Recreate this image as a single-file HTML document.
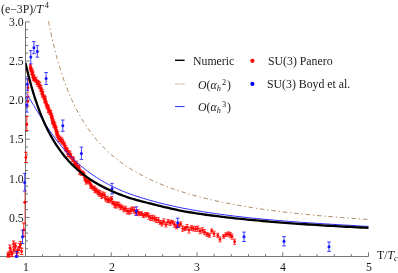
<!DOCTYPE html>
<html><head><meta charset="utf-8"><title>plot</title>
<style>
html,body{margin:0;padding:0;background:#fff;}
body{width:398px;height:273px;position:relative;overflow:hidden;font-family:"Liberation Serif",serif;}
.t{will-change:transform;position:absolute;white-space:nowrap;font-family:"Liberation Serif",serif;font-size:11.8px;line-height:1;color:#1a1a1a;}
.sup{font-size:8.4px;position:relative;top:-4.4px;margin-left:1.2px;margin-right:0.8px;}
.sup.tt{top:-5.4px;margin-left:1.6px;}
.sub{font-size:8.4px;position:relative;top:2.0px;}
</style></head><body>
<svg width="398" height="273" viewBox="0 0 398 273" style="position:absolute;left:0;top:0">
<g stroke="#787878" stroke-width="1" fill="none" shape-rendering="auto">
<path d="M0 256.5 H368.5"/>
<path d="M25.5 256.5 V21.9"/>
<path d="M25.50 256.5 v-4.2 M42.65 256.5 v-2.5 M59.80 256.5 v-2.5 M76.95 256.5 v-2.5 M94.10 256.5 v-2.5 M111.25 256.5 v-4.2 M128.40 256.5 v-2.5 M145.55 256.5 v-2.5 M162.70 256.5 v-2.5 M179.85 256.5 v-2.5 M197.00 256.5 v-4.2 M214.15 256.5 v-2.5 M231.30 256.5 v-2.5 M248.45 256.5 v-2.5 M265.60 256.5 v-2.5 M282.75 256.5 v-4.2 M299.90 256.5 v-2.5 M317.05 256.5 v-2.5 M334.20 256.5 v-2.5 M351.35 256.5 v-2.5 M368.50 256.5 v-4.2 M25.5 256.50 h4.2 M25.5 248.68 h2.5 M25.5 240.86 h2.5 M25.5 233.04 h2.5 M25.5 225.22 h2.5 M25.5 217.40 h4.2 M25.5 209.58 h2.5 M25.5 201.76 h2.5 M25.5 193.94 h2.5 M25.5 186.12 h2.5 M25.5 178.30 h4.2 M25.5 170.48 h2.5 M25.5 162.66 h2.5 M25.5 154.84 h2.5 M25.5 147.02 h2.5 M25.5 139.20 h4.2 M25.5 131.38 h2.5 M25.5 123.56 h2.5 M25.5 115.74 h2.5 M25.5 107.92 h2.5 M25.5 100.10 h4.2 M25.5 92.28 h2.5 M25.5 84.46 h2.5 M25.5 76.64 h2.5 M25.5 68.82 h2.5 M25.5 61.00 h4.2 M25.5 53.18 h2.5 M25.5 45.36 h2.5 M25.5 37.54 h2.5 M25.5 29.72 h2.5 M25.5 21.90 h4.2"/>
</g>
<g stroke="#ff0000" stroke-width="0.75" fill="#ff0000">
<path fill="none" d="M30.49 64.70 V68.95 M28.89 64.70 h3.20 M28.89 68.95 h3.20 M30.42 65.98 V69.89 M28.82 65.98 h3.20 M28.82 69.89 h3.20 M30.83 67.30 V71.91 M29.23 67.30 h3.20 M29.23 71.91 h3.20 M31.65 67.99 V73.78 M30.05 67.99 h3.20 M30.05 73.78 h3.20 M32.01 69.11 V74.67 M30.41 69.11 h3.20 M30.41 74.67 h3.20 M32.36 70.28 V74.50 M30.76 70.28 h3.20 M30.76 74.50 h3.20 M32.42 73.03 V76.99 M30.82 73.03 h3.20 M30.82 76.99 h3.20 M33.19 71.98 V77.78 M31.59 71.98 h3.20 M31.59 77.78 h3.20 M33.21 75.07 V80.04 M31.61 75.07 h3.20 M31.61 80.04 h3.20 M33.81 74.96 V80.24 M32.21 74.96 h3.20 M32.21 80.24 h3.20 M34.03 76.32 V80.14 M32.43 76.32 h3.20 M32.43 80.14 h3.20 M34.82 77.81 V81.55 M33.22 77.81 h3.20 M33.22 81.55 h3.20 M36.18 77.27 V82.52 M34.58 77.27 h3.20 M34.58 82.52 h3.20 M36.79 80.00 V84.62 M35.19 80.00 h3.20 M35.19 84.62 h3.20 M37.68 80.87 V84.64 M36.08 80.87 h3.20 M36.08 84.64 h3.20 M38.02 80.73 V86.58 M36.42 80.73 h3.20 M36.42 86.58 h3.20 M38.78 81.47 V86.59 M37.18 81.47 h3.20 M37.18 86.59 h3.20 M39.88 82.39 V87.91 M38.28 82.39 h3.20 M38.28 87.91 h3.20 M39.83 85.13 V88.93 M38.23 85.13 h3.20 M38.23 88.93 h3.20 M40.73 85.50 V91.15 M39.13 85.50 h3.20 M39.13 91.15 h3.20 M41.09 87.10 V90.86 M39.49 87.10 h3.20 M39.49 90.86 h3.20 M41.22 88.27 V93.94 M39.62 88.27 h3.20 M39.62 93.94 h3.20 M42.25 89.47 V94.16 M40.65 89.47 h3.20 M40.65 94.16 h3.20 M42.42 91.53 V95.94 M40.82 91.53 h3.20 M40.82 95.94 h3.20 M42.66 91.35 V96.28 M41.06 91.35 h3.20 M41.06 96.28 h3.20 M42.85 91.85 V97.68 M41.25 91.85 h3.20 M41.25 97.68 h3.20 M43.88 94.95 V99.19 M42.28 94.95 h3.20 M42.28 99.19 h3.20 M44.61 95.67 V99.58 M43.01 95.67 h3.20 M43.01 99.58 h3.20 M45.18 96.73 V101.59 M43.58 96.73 h3.20 M43.58 101.59 h3.20 M44.91 98.37 V102.55 M43.31 98.37 h3.20 M43.31 102.55 h3.20 M45.27 99.24 V103.10 M43.67 99.24 h3.20 M43.67 103.10 h3.20 M45.92 100.91 V104.90 M44.32 100.91 h3.20 M44.32 104.90 h3.20 M46.51 101.92 V105.64 M44.91 101.92 h3.20 M44.91 105.64 h3.20 M46.71 104.10 V108.19 M45.11 104.10 h3.20 M45.11 108.19 h3.20 M47.55 104.46 V108.81 M45.95 104.46 h3.20 M45.95 108.81 h3.20 M48.45 105.62 V109.95 M46.85 105.62 h3.20 M46.85 109.95 h3.20 M48.31 107.16 V112.59 M46.71 107.16 h3.20 M46.71 112.59 h3.20 M48.59 107.51 V111.80 M46.99 107.51 h3.20 M46.99 111.80 h3.20 M49.50 109.16 V113.96 M47.90 109.16 h3.20 M47.90 113.96 h3.20 M50.34 110.20 V114.23 M48.74 110.20 h3.20 M48.74 114.23 h3.20 M50.65 110.55 V114.98 M49.05 110.55 h3.20 M49.05 114.98 h3.20 M51.23 113.58 V117.22 M49.63 113.58 h3.20 M49.63 117.22 h3.20 M51.61 113.44 V117.64 M50.01 113.44 h3.20 M50.01 117.64 h3.20 M51.80 116.45 V120.09 M50.20 116.45 h3.20 M50.20 120.09 h3.20 M52.58 115.80 V121.16 M50.98 115.80 h3.20 M50.98 121.16 h3.20 M52.56 118.43 V123.35 M50.96 118.43 h3.20 M50.96 123.35 h3.20 M52.72 120.19 V124.25 M51.12 120.19 h3.20 M51.12 124.25 h3.20 M53.72 119.94 V124.68 M52.12 119.94 h3.20 M52.12 124.68 h3.20 M54.06 121.76 V127.60 M52.46 121.76 h3.20 M52.46 127.60 h3.20 M53.85 122.59 V126.44 M52.25 122.59 h3.20 M52.25 126.44 h3.20 M55.08 122.95 V128.51 M53.48 122.95 h3.20 M53.48 128.51 h3.20 M55.44 125.30 V129.94 M53.84 125.30 h3.20 M53.84 129.94 h3.20 M55.49 126.14 V130.92 M53.89 126.14 h3.20 M53.89 130.92 h3.20 M56.53 127.18 V132.78 M54.93 127.18 h3.20 M54.93 132.78 h3.20 M56.60 129.47 V134.01 M55.00 129.47 h3.20 M55.00 134.01 h3.20 M56.47 131.14 V135.95 M54.87 131.14 h3.20 M54.87 135.95 h3.20 M57.42 131.86 V137.11 M55.82 131.86 h3.20 M55.82 137.11 h3.20 M57.81 131.54 V137.50 M56.21 131.54 h3.20 M56.21 137.50 h3.20 M58.21 135.36 V139.79 M56.61 135.36 h3.20 M56.61 139.79 h3.20 M58.90 136.04 V141.64 M57.30 136.04 h3.20 M57.30 141.64 h3.20 M60.07 136.19 V141.49 M58.47 136.19 h3.20 M58.47 141.49 h3.20 M61.07 137.85 V142.97 M59.47 137.85 h3.20 M59.47 142.97 h3.20 M61.87 137.92 V142.49 M60.27 137.92 h3.20 M60.27 142.49 h3.20 M62.48 139.49 V143.93 M60.88 139.49 h3.20 M60.88 143.93 h3.20 M63.09 140.86 V144.59 M61.49 140.86 h3.20 M61.49 144.59 h3.20 M64.13 142.05 V145.97 M62.53 142.05 h3.20 M62.53 145.97 h3.20 M64.72 143.94 V147.71 M63.12 143.94 h3.20 M63.12 147.71 h3.20 M65.49 145.59 V150.97 M63.89 145.59 h3.20 M63.89 150.97 h3.20 M65.63 145.94 V150.16 M64.03 145.94 h3.20 M64.03 150.16 h3.20 M66.70 147.59 V151.58 M65.10 147.59 h3.20 M65.10 151.58 h3.20 M67.33 148.41 V152.21 M65.73 148.41 h3.20 M65.73 152.21 h3.20 M67.65 151.20 V156.82 M66.05 151.20 h3.20 M66.05 156.82 h3.20 M68.79 150.87 V156.56 M67.19 150.87 h3.20 M67.19 156.56 h3.20 M69.93 151.12 V156.33 M68.33 151.12 h3.20 M68.33 156.33 h3.20 M70.51 153.37 V157.65 M68.91 153.37 h3.20 M68.91 157.65 h3.20 M70.89 154.66 V158.84 M69.29 154.66 h3.20 M69.29 158.84 h3.20 M72.45 157.35 V161.66 M70.85 157.35 h3.20 M70.85 161.66 h3.20 M72.85 156.58 V161.28 M71.25 156.58 h3.20 M71.25 161.28 h3.20 M73.71 157.83 V161.81 M72.11 157.83 h3.20 M72.11 161.81 h3.20 M74.61 161.18 V165.85 M73.01 161.18 h3.20 M73.01 165.85 h3.20 M75.20 162.08 V166.31 M73.60 162.08 h3.20 M73.60 166.31 h3.20 M76.61 161.18 V167.09 M75.01 161.18 h3.20 M75.01 167.09 h3.20 M77.57 163.44 V169.37 M75.97 163.44 h3.20 M75.97 169.37 h3.20 M78.09 165.45 V170.36 M76.49 165.45 h3.20 M76.49 170.36 h3.20 M79.13 165.42 V169.61 M77.53 165.42 h3.20 M77.53 169.61 h3.20 M79.54 168.21 V174.12 M77.94 168.21 h3.20 M77.94 174.12 h3.20 M80.34 169.80 V174.15 M78.74 169.80 h3.20 M78.74 174.15 h3.20 M81.20 170.83 V175.29 M79.60 170.83 h3.20 M79.60 175.29 h3.20 M82.57 171.60 V175.21 M80.97 171.60 h3.20 M80.97 175.21 h3.20 M83.23 171.19 V175.70 M81.63 171.19 h3.20 M81.63 175.70 h3.20 M84.31 172.93 V177.67 M82.71 172.93 h3.20 M82.71 177.67 h3.20 M84.89 175.51 V180.32 M83.29 175.51 h3.20 M83.29 180.32 h3.20 M85.17 176.90 V180.98 M83.57 176.90 h3.20 M83.57 180.98 h3.20 M86.15 179.32 V184.14 M84.55 179.32 h3.20 M84.55 184.14 h3.20 M87.15 179.37 V182.98 M85.55 179.37 h3.20 M85.55 182.98 h3.20 M88.80 179.31 V183.54 M87.20 179.31 h3.20 M87.20 183.54 h3.20 M89.88 180.60 V184.42 M88.28 180.60 h3.20 M88.28 184.42 h3.20 M90.62 183.77 V188.32 M89.02 183.77 h3.20 M89.02 188.32 h3.20 M91.56 184.27 V187.97 M89.96 184.27 h3.20 M89.96 187.97 h3.20 M92.84 186.25 V189.90 M91.24 186.25 h3.20 M91.24 189.90 h3.20 M94.44 186.17 V190.50 M92.84 186.17 h3.20 M92.84 190.50 h3.20 M95.00 188.40 V192.55 M93.40 188.40 h3.20 M93.40 192.55 h3.20 M96.33 188.02 V193.02 M94.73 188.02 h3.20 M94.73 193.02 h3.20 M97.98 189.65 V194.52 M96.38 189.65 h3.20 M96.38 194.52 h3.20 M99.13 190.60 V196.00 M97.53 190.60 h3.20 M97.53 196.00 h3.20 M99.98 191.04 V196.21 M98.38 191.04 h3.20 M98.38 196.21 h3.20 M101.69 193.23 V198.54 M100.09 193.23 h3.20 M100.09 198.54 h3.20 M102.82 191.85 V197.56 M101.22 191.85 h3.20 M101.22 197.56 h3.20 M104.56 192.81 V197.35 M102.96 192.81 h3.20 M102.96 197.35 h3.20 M105.48 196.66 V201.04 M103.88 196.66 h3.20 M103.88 201.04 h3.20 M107.36 196.16 V202.12 M105.76 196.16 h3.20 M105.76 202.12 h3.20 M108.34 198.29 V202.24 M106.74 198.29 h3.20 M106.74 202.24 h3.20 M110.17 197.53 V202.87 M108.57 197.53 h3.20 M108.57 202.87 h3.20 M111.77 196.54 V201.68 M110.17 196.54 h3.20 M110.17 201.68 h3.20 M112.74 201.10 V204.80 M111.14 201.10 h3.20 M111.14 204.80 h3.20 M114.43 201.71 V207.32 M112.83 201.71 h3.20 M112.83 207.32 h3.20 M115.90 202.42 V208.16 M114.30 202.42 h3.20 M114.30 208.16 h3.20 M117.06 201.86 V206.97 M115.46 201.86 h3.20 M115.46 206.97 h3.20 M118.89 202.47 V207.84 M117.29 202.47 h3.20 M117.29 207.84 h3.20 M120.44 204.22 V209.77 M118.84 204.22 h3.20 M118.84 209.77 h3.20 M122.06 205.17 V209.11 M120.46 205.17 h3.20 M120.46 209.11 h3.20 M123.78 206.99 V211.85 M122.18 206.99 h3.20 M122.18 211.85 h3.20 M125.40 206.23 V211.04 M123.80 206.23 h3.20 M123.80 211.04 h3.20 M127.06 208.27 V213.87 M125.46 208.27 h3.20 M125.46 213.87 h3.20 M128.87 208.73 V214.27 M127.27 208.73 h3.20 M127.27 214.27 h3.20 M130.61 207.91 V213.49 M129.01 207.91 h3.20 M129.01 213.49 h3.20 M132.39 206.84 V211.84 M130.79 206.84 h3.20 M130.79 211.84 h3.20 M134.21 207.52 V213.27 M132.61 207.52 h3.20 M132.61 213.27 h3.20 M136.15 210.16 V215.40 M134.55 210.16 h3.20 M134.55 215.40 h3.20 M137.93 209.59 V214.86 M136.33 209.59 h3.20 M136.33 214.86 h3.20 M139.60 211.58 V215.73 M138.00 211.58 h3.20 M138.00 215.73 h3.20 M141.56 211.82 V215.49 M139.96 211.82 h3.20 M139.96 215.49 h3.20 M143.33 213.57 V217.49 M141.73 213.57 h3.20 M141.73 217.49 h3.20 M145.34 212.55 V217.02 M143.74 212.55 h3.20 M143.74 217.02 h3.20 M147.15 212.49 V216.34 M145.55 212.49 h3.20 M145.55 216.34 h3.20 M148.82 213.73 V219.34 M147.22 213.73 h3.20 M147.22 219.34 h3.20 M150.76 215.54 V220.48 M149.16 215.54 h3.20 M149.16 220.48 h3.20 M152.47 215.25 V220.35 M150.87 215.25 h3.20 M150.87 220.35 h3.20 M154.45 215.97 V221.08 M152.85 215.97 h3.20 M152.85 221.08 h3.20 M156.34 217.39 V222.62 M154.74 217.39 h3.20 M154.74 222.62 h3.20 M158.24 217.69 V222.46 M156.64 217.69 h3.20 M156.64 222.46 h3.20 M160.12 220.82 V224.43 M158.52 220.82 h3.20 M158.52 224.43 h3.20 M161.96 220.55 V226.07 M160.36 220.55 h3.20 M160.36 226.07 h3.20 M163.86 218.85 V224.24 M162.26 218.85 h3.20 M162.26 224.24 h3.20 M166.00 222.25 V227.06 M164.40 222.25 h3.20 M164.40 227.06 h3.20 M167.98 219.41 V224.30 M166.38 219.41 h3.20 M166.38 224.30 h3.20 M170.20 220.23 V225.41 M168.60 220.23 h3.20 M168.60 225.41 h3.20 M172.30 220.33 V224.09 M170.70 220.33 h3.20 M170.70 224.09 h3.20 M174.41 221.82 V227.19 M172.81 221.82 h3.20 M172.81 227.19 h3.20 M176.39 224.59 V228.80 M174.79 224.59 h3.20 M174.79 228.80 h3.20 M178.65 223.72 V227.50 M177.05 223.72 h3.20 M177.05 227.50 h3.20 M180.65 221.86 V226.09 M179.05 221.86 h3.20 M179.05 226.09 h3.20 M182.69 225.96 V231.31 M181.09 225.96 h3.20 M181.09 231.31 h3.20 M185.01 226.45 V230.55 M183.41 226.45 h3.20 M183.41 230.55 h3.20 M187.08 224.44 V229.82 M185.48 224.44 h3.20 M185.48 229.82 h3.20 M189.02 227.10 V233.05 M187.42 227.10 h3.20 M187.42 233.05 h3.20 M191.44 225.60 V230.38 M189.84 225.60 h3.20 M189.84 230.38 h3.20 M193.43 226.40 V230.92 M191.83 226.40 h3.20 M191.83 230.92 h3.20 M195.70 226.57 V231.32 M194.10 226.57 h3.20 M194.10 231.32 h3.20 M197.75 225.98 V231.22 M196.15 225.98 h3.20 M196.15 231.22 h3.20 M200.05 228.26 V233.70 M198.45 228.26 h3.20 M198.45 233.70 h3.20 M202.43 227.74 V232.82 M200.83 227.74 h3.20 M200.83 232.82 h3.20 M204.62 229.66 V234.81 M203.02 229.66 h3.20 M203.02 234.81 h3.20 M207.03 232.48 V236.27 M205.43 232.48 h3.20 M205.43 236.27 h3.20 M209.30 233.36 V237.31 M207.70 233.36 h3.20 M207.70 237.31 h3.20 M211.72 228.91 V233.12 M210.12 228.91 h3.20 M210.12 233.12 h3.20 M214.11 231.05 V236.44 M212.51 231.05 h3.20 M212.51 236.44 h3.20 M217.80 233.33 V237.67 M216.20 233.33 h3.20 M216.20 237.67 h3.20 M220.00 236.92 V241.88 M218.40 236.92 h3.20 M218.40 241.88 h3.20 M223.70 234.59 V238.21 M222.10 234.59 h3.20 M222.10 238.21 h3.20 M226.00 232.73 V236.47 M224.40 232.73 h3.20 M224.40 236.47 h3.20 M228.30 231.88 V236.12 M226.70 231.88 h3.20 M226.70 236.12 h3.20 M230.30 232.39 V237.61 M228.70 232.39 h3.20 M228.70 237.61 h3.20 M232.00 233.97 V239.23 M230.40 233.97 h3.20 M230.40 239.23 h3.20 M234.60 239.09 V244.31 M233.00 239.09 h3.20 M233.00 244.31 h3.20"/>
<circle cx="30.49" cy="66.82" r="1.4" stroke="none"/>
<circle cx="30.42" cy="67.93" r="1.4" stroke="none"/>
<circle cx="30.83" cy="69.60" r="1.4" stroke="none"/>
<circle cx="31.65" cy="70.89" r="1.4" stroke="none"/>
<circle cx="32.01" cy="71.89" r="1.4" stroke="none"/>
<circle cx="32.36" cy="72.39" r="1.4" stroke="none"/>
<circle cx="32.42" cy="75.01" r="1.4" stroke="none"/>
<circle cx="33.19" cy="74.88" r="1.4" stroke="none"/>
<circle cx="33.21" cy="77.56" r="1.4" stroke="none"/>
<circle cx="33.81" cy="77.60" r="1.4" stroke="none"/>
<circle cx="34.03" cy="78.23" r="1.4" stroke="none"/>
<circle cx="34.82" cy="79.68" r="1.4" stroke="none"/>
<circle cx="36.18" cy="79.89" r="1.4" stroke="none"/>
<circle cx="36.79" cy="82.31" r="1.4" stroke="none"/>
<circle cx="37.68" cy="82.75" r="1.4" stroke="none"/>
<circle cx="38.02" cy="83.65" r="1.4" stroke="none"/>
<circle cx="38.78" cy="84.03" r="1.4" stroke="none"/>
<circle cx="39.88" cy="85.15" r="1.4" stroke="none"/>
<circle cx="39.83" cy="87.03" r="1.4" stroke="none"/>
<circle cx="40.73" cy="88.33" r="1.4" stroke="none"/>
<circle cx="41.09" cy="88.98" r="1.4" stroke="none"/>
<circle cx="41.22" cy="91.10" r="1.4" stroke="none"/>
<circle cx="42.25" cy="91.82" r="1.4" stroke="none"/>
<circle cx="42.42" cy="93.74" r="1.4" stroke="none"/>
<circle cx="42.66" cy="93.82" r="1.4" stroke="none"/>
<circle cx="42.85" cy="94.77" r="1.4" stroke="none"/>
<circle cx="43.88" cy="97.07" r="1.4" stroke="none"/>
<circle cx="44.61" cy="97.62" r="1.4" stroke="none"/>
<circle cx="45.18" cy="99.16" r="1.4" stroke="none"/>
<circle cx="44.91" cy="100.46" r="1.4" stroke="none"/>
<circle cx="45.27" cy="101.17" r="1.4" stroke="none"/>
<circle cx="45.92" cy="102.90" r="1.4" stroke="none"/>
<circle cx="46.51" cy="103.78" r="1.4" stroke="none"/>
<circle cx="46.71" cy="106.15" r="1.4" stroke="none"/>
<circle cx="47.55" cy="106.63" r="1.4" stroke="none"/>
<circle cx="48.45" cy="107.78" r="1.4" stroke="none"/>
<circle cx="48.31" cy="109.87" r="1.4" stroke="none"/>
<circle cx="48.59" cy="109.65" r="1.4" stroke="none"/>
<circle cx="49.50" cy="111.56" r="1.4" stroke="none"/>
<circle cx="50.34" cy="112.21" r="1.4" stroke="none"/>
<circle cx="50.65" cy="112.76" r="1.4" stroke="none"/>
<circle cx="51.23" cy="115.40" r="1.4" stroke="none"/>
<circle cx="51.61" cy="115.54" r="1.4" stroke="none"/>
<circle cx="51.80" cy="118.27" r="1.4" stroke="none"/>
<circle cx="52.58" cy="118.48" r="1.4" stroke="none"/>
<circle cx="52.56" cy="120.89" r="1.4" stroke="none"/>
<circle cx="52.72" cy="122.22" r="1.4" stroke="none"/>
<circle cx="53.72" cy="122.31" r="1.4" stroke="none"/>
<circle cx="54.06" cy="124.68" r="1.4" stroke="none"/>
<circle cx="53.85" cy="124.52" r="1.4" stroke="none"/>
<circle cx="55.08" cy="125.73" r="1.4" stroke="none"/>
<circle cx="55.44" cy="127.62" r="1.4" stroke="none"/>
<circle cx="55.49" cy="128.53" r="1.4" stroke="none"/>
<circle cx="56.53" cy="129.98" r="1.4" stroke="none"/>
<circle cx="56.60" cy="131.74" r="1.4" stroke="none"/>
<circle cx="56.47" cy="133.54" r="1.4" stroke="none"/>
<circle cx="57.42" cy="134.49" r="1.4" stroke="none"/>
<circle cx="57.81" cy="134.52" r="1.4" stroke="none"/>
<circle cx="58.21" cy="137.57" r="1.4" stroke="none"/>
<circle cx="58.90" cy="138.84" r="1.4" stroke="none"/>
<circle cx="60.07" cy="138.84" r="1.4" stroke="none"/>
<circle cx="61.07" cy="140.41" r="1.4" stroke="none"/>
<circle cx="61.87" cy="140.21" r="1.4" stroke="none"/>
<circle cx="62.48" cy="141.71" r="1.4" stroke="none"/>
<circle cx="63.09" cy="142.73" r="1.4" stroke="none"/>
<circle cx="64.13" cy="144.01" r="1.4" stroke="none"/>
<circle cx="64.72" cy="145.82" r="1.4" stroke="none"/>
<circle cx="65.49" cy="148.28" r="1.4" stroke="none"/>
<circle cx="65.63" cy="148.05" r="1.4" stroke="none"/>
<circle cx="66.70" cy="149.58" r="1.4" stroke="none"/>
<circle cx="67.33" cy="150.31" r="1.4" stroke="none"/>
<circle cx="67.65" cy="154.01" r="1.4" stroke="none"/>
<circle cx="68.79" cy="153.72" r="1.4" stroke="none"/>
<circle cx="69.93" cy="153.73" r="1.4" stroke="none"/>
<circle cx="70.51" cy="155.51" r="1.4" stroke="none"/>
<circle cx="70.89" cy="156.75" r="1.4" stroke="none"/>
<circle cx="72.45" cy="159.51" r="1.4" stroke="none"/>
<circle cx="72.85" cy="158.93" r="1.4" stroke="none"/>
<circle cx="73.71" cy="159.82" r="1.4" stroke="none"/>
<circle cx="74.61" cy="163.52" r="1.4" stroke="none"/>
<circle cx="75.20" cy="164.19" r="1.4" stroke="none"/>
<circle cx="76.61" cy="164.14" r="1.4" stroke="none"/>
<circle cx="77.57" cy="166.41" r="1.4" stroke="none"/>
<circle cx="78.09" cy="167.90" r="1.4" stroke="none"/>
<circle cx="79.13" cy="167.52" r="1.4" stroke="none"/>
<circle cx="79.54" cy="171.16" r="1.4" stroke="none"/>
<circle cx="80.34" cy="171.98" r="1.4" stroke="none"/>
<circle cx="81.20" cy="173.06" r="1.4" stroke="none"/>
<circle cx="82.57" cy="173.40" r="1.4" stroke="none"/>
<circle cx="83.23" cy="173.44" r="1.4" stroke="none"/>
<circle cx="84.31" cy="175.30" r="1.4" stroke="none"/>
<circle cx="84.89" cy="177.92" r="1.4" stroke="none"/>
<circle cx="85.17" cy="178.94" r="1.4" stroke="none"/>
<circle cx="86.15" cy="181.73" r="1.4" stroke="none"/>
<circle cx="87.15" cy="181.17" r="1.4" stroke="none"/>
<circle cx="88.80" cy="181.43" r="1.4" stroke="none"/>
<circle cx="89.88" cy="182.51" r="1.4" stroke="none"/>
<circle cx="90.62" cy="186.05" r="1.4" stroke="none"/>
<circle cx="91.56" cy="186.12" r="1.4" stroke="none"/>
<circle cx="92.84" cy="188.07" r="1.4" stroke="none"/>
<circle cx="94.44" cy="188.33" r="1.4" stroke="none"/>
<circle cx="95.00" cy="190.48" r="1.4" stroke="none"/>
<circle cx="96.33" cy="190.52" r="1.4" stroke="none"/>
<circle cx="97.98" cy="192.08" r="1.4" stroke="none"/>
<circle cx="99.13" cy="193.30" r="1.4" stroke="none"/>
<circle cx="99.98" cy="193.62" r="1.4" stroke="none"/>
<circle cx="101.69" cy="195.89" r="1.4" stroke="none"/>
<circle cx="102.82" cy="194.71" r="1.4" stroke="none"/>
<circle cx="104.56" cy="195.08" r="1.4" stroke="none"/>
<circle cx="105.48" cy="198.85" r="1.4" stroke="none"/>
<circle cx="107.36" cy="199.14" r="1.4" stroke="none"/>
<circle cx="108.34" cy="200.26" r="1.4" stroke="none"/>
<circle cx="110.17" cy="200.20" r="1.4" stroke="none"/>
<circle cx="111.77" cy="199.11" r="1.4" stroke="none"/>
<circle cx="112.74" cy="202.95" r="1.4" stroke="none"/>
<circle cx="114.43" cy="204.51" r="1.4" stroke="none"/>
<circle cx="115.90" cy="205.29" r="1.4" stroke="none"/>
<circle cx="117.06" cy="204.41" r="1.4" stroke="none"/>
<circle cx="118.89" cy="205.16" r="1.4" stroke="none"/>
<circle cx="120.44" cy="206.99" r="1.4" stroke="none"/>
<circle cx="122.06" cy="207.14" r="1.4" stroke="none"/>
<circle cx="123.78" cy="209.42" r="1.4" stroke="none"/>
<circle cx="125.40" cy="208.63" r="1.4" stroke="none"/>
<circle cx="127.06" cy="211.07" r="1.4" stroke="none"/>
<circle cx="128.87" cy="211.50" r="1.4" stroke="none"/>
<circle cx="130.61" cy="210.70" r="1.4" stroke="none"/>
<circle cx="132.39" cy="209.34" r="1.4" stroke="none"/>
<circle cx="134.21" cy="210.40" r="1.4" stroke="none"/>
<circle cx="136.15" cy="212.78" r="1.4" stroke="none"/>
<circle cx="137.93" cy="212.22" r="1.4" stroke="none"/>
<circle cx="139.60" cy="213.66" r="1.4" stroke="none"/>
<circle cx="141.56" cy="213.65" r="1.4" stroke="none"/>
<circle cx="143.33" cy="215.53" r="1.4" stroke="none"/>
<circle cx="145.34" cy="214.78" r="1.4" stroke="none"/>
<circle cx="147.15" cy="214.42" r="1.4" stroke="none"/>
<circle cx="148.82" cy="216.53" r="1.4" stroke="none"/>
<circle cx="150.76" cy="218.01" r="1.4" stroke="none"/>
<circle cx="152.47" cy="217.80" r="1.4" stroke="none"/>
<circle cx="154.45" cy="218.52" r="1.4" stroke="none"/>
<circle cx="156.34" cy="220.01" r="1.4" stroke="none"/>
<circle cx="158.24" cy="220.08" r="1.4" stroke="none"/>
<circle cx="160.12" cy="222.62" r="1.4" stroke="none"/>
<circle cx="161.96" cy="223.31" r="1.4" stroke="none"/>
<circle cx="163.86" cy="221.54" r="1.4" stroke="none"/>
<circle cx="166.00" cy="224.66" r="1.4" stroke="none"/>
<circle cx="167.98" cy="221.86" r="1.4" stroke="none"/>
<circle cx="170.20" cy="222.82" r="1.4" stroke="none"/>
<circle cx="172.30" cy="222.21" r="1.4" stroke="none"/>
<circle cx="174.41" cy="224.50" r="1.4" stroke="none"/>
<circle cx="176.39" cy="226.69" r="1.4" stroke="none"/>
<circle cx="178.65" cy="225.61" r="1.4" stroke="none"/>
<circle cx="180.65" cy="223.97" r="1.4" stroke="none"/>
<circle cx="182.69" cy="228.64" r="1.4" stroke="none"/>
<circle cx="185.01" cy="228.50" r="1.4" stroke="none"/>
<circle cx="187.08" cy="227.13" r="1.4" stroke="none"/>
<circle cx="189.02" cy="230.07" r="1.4" stroke="none"/>
<circle cx="191.44" cy="227.99" r="1.4" stroke="none"/>
<circle cx="193.43" cy="228.66" r="1.4" stroke="none"/>
<circle cx="195.70" cy="228.95" r="1.4" stroke="none"/>
<circle cx="197.75" cy="228.60" r="1.4" stroke="none"/>
<circle cx="200.05" cy="230.98" r="1.4" stroke="none"/>
<circle cx="202.43" cy="230.28" r="1.4" stroke="none"/>
<circle cx="204.62" cy="232.23" r="1.4" stroke="none"/>
<circle cx="207.03" cy="234.37" r="1.4" stroke="none"/>
<circle cx="209.30" cy="235.33" r="1.4" stroke="none"/>
<circle cx="211.72" cy="231.02" r="1.4" stroke="none"/>
<circle cx="214.11" cy="233.75" r="1.4" stroke="none"/>
<circle cx="217.80" cy="235.50" r="1.4" stroke="none"/>
<circle cx="220.00" cy="239.40" r="1.4" stroke="none"/>
<circle cx="223.70" cy="236.40" r="1.4" stroke="none"/>
<circle cx="226.00" cy="234.60" r="1.4" stroke="none"/>
<circle cx="228.30" cy="234.00" r="1.4" stroke="none"/>
<circle cx="230.30" cy="235.00" r="1.4" stroke="none"/>
<circle cx="232.00" cy="236.60" r="1.4" stroke="none"/>
<circle cx="234.60" cy="241.70" r="1.4" stroke="none"/>
</g>
<g stroke="#ff0000" stroke-width="0.80" fill="#ff0000" opacity="1.00"><path d="M13.60 241.00 V247.00 M11.80 241.00 h3.60 M11.80 247.00 h3.60" fill="none"/><circle cx="13.60" cy="244.00" r="1.40" stroke="none"/></g>
<g stroke="#ff0000" stroke-width="0.80" fill="#ff0000" opacity="1.00"><path d="M10.00 245.00 V251.00 M8.20 245.00 h3.60 M8.20 251.00 h3.60" fill="none"/><circle cx="10.00" cy="248.00" r="1.40" stroke="none"/></g>
<g stroke="#ff0000" stroke-width="0.80" fill="#ff0000" opacity="1.00"><path d="M15.50 243.00 V249.00 M13.70 243.00 h3.60 M13.70 249.00 h3.60" fill="none"/><circle cx="15.50" cy="246.00" r="1.40" stroke="none"/></g>
<g stroke="#ff0000" stroke-width="0.80" fill="#ff0000" opacity="1.00"><path d="M19.60 243.50 V250.50 M17.80 243.50 h3.60 M17.80 250.50 h3.60" fill="none"/><circle cx="19.60" cy="247.00" r="1.40" stroke="none"/></g>
<g stroke="#ff0000" stroke-width="0.80" fill="#ff0000" opacity="1.00"><path d="M11.00 249.00 V255.00 M9.20 249.00 h3.60 M9.20 255.00 h3.60" fill="none"/><circle cx="11.00" cy="252.00" r="1.40" stroke="none"/></g>
<g stroke="#ff0000" stroke-width="0.80" fill="#ff0000" opacity="1.00"><path d="M21.60 248.60 V254.60 M19.80 248.60 h3.60 M19.80 254.60 h3.60" fill="none"/><circle cx="21.60" cy="251.60" r="1.40" stroke="none"/></g>
<g stroke="#ff0000" stroke-width="0.80" fill="#ff0000" opacity="1.00"><path d="M9.00 252.10 V257.10 M7.20 252.10 h3.60 M7.20 257.10 h3.60" fill="none"/><circle cx="9.00" cy="254.60" r="1.40" stroke="none"/></g>
<g stroke="#ff0000" stroke-width="0.80" fill="#ff0000" opacity="1.00"><path d="M12.00 251.50 V256.50 M10.20 251.50 h3.60 M10.20 256.50 h3.60" fill="none"/><circle cx="12.00" cy="254.00" r="1.40" stroke="none"/></g>
<g stroke="#ff0000" stroke-width="0.80" fill="#ff0000" opacity="1.00"><path d="M18.00 247.00 V253.00 M16.20 247.00 h3.60 M16.20 253.00 h3.60" fill="none"/><circle cx="18.00" cy="250.00" r="1.40" stroke="none"/></g>
<g stroke="#ff0000" stroke-width="0.80" fill="#ff0000" opacity="1.00"><path d="M14.00 247.00 V253.00 M12.20 247.00 h3.60 M12.20 253.00 h3.60" fill="none"/><circle cx="14.00" cy="250.00" r="1.40" stroke="none"/></g>
<g stroke="#ff0000" stroke-width="0.80" fill="#ff0000" opacity="1.00"><path d="M20.50 241.50 V247.50 M18.70 241.50 h3.60 M18.70 247.50 h3.60" fill="none"/><circle cx="20.50" cy="244.50" r="1.40" stroke="none"/></g>
<g stroke="#ff0000" stroke-width="0.80" fill="#ff0000" opacity="1.00"><path d="M17.00 250.50 V255.50 M15.20 250.50 h3.60 M15.20 255.50 h3.60" fill="none"/><circle cx="17.00" cy="253.00" r="1.40" stroke="none"/></g>
<g stroke="#ff0000" stroke-width="0.80" fill="#ff0000" opacity="1.00"><path d="M8.00 253.00 V257.00 M6.20 253.00 h3.60 M6.20 257.00 h3.60" fill="none"/><circle cx="8.00" cy="255.00" r="1.40" stroke="none"/></g>
<g stroke="#ff0000" stroke-width="0.90" fill="#ff0000" opacity="1.00"><path d="M23.80 223.00 V236.60 M22.10 223.00 h3.40 M22.10 236.60 h3.40" fill="none"/><circle cx="23.80" cy="229.80" r="1.40" stroke="none"/></g>
<g stroke="#ff0000" stroke-width="0.90" fill="#ff0000" opacity="0.55"><path d="M24.80 191.80 V224.00 M23.10 191.80 h3.40 M23.10 224.00 h3.40" fill="none"/><circle cx="24.80" cy="202.30" r="0.00" stroke="none"/></g>
<circle cx="24.8" cy="202.3" r="1.5" fill="#ff0000"/>
<g stroke="#ff0000" stroke-width="0.90" fill="#ff0000" opacity="1.00"><path d="M25.90 152.30 V162.50 M24.20 152.30 h3.40 M24.20 162.50 h3.40" fill="none"/><circle cx="25.90" cy="157.50" r="1.40" stroke="none"/></g>
<g stroke="#ff0000" stroke-width="0.90" fill="#ff0000" opacity="1.00"><path d="M26.80 116.50 V130.50 M25.10 116.50 h3.40 M25.10 130.50 h3.40" fill="none"/><circle cx="26.80" cy="124.50" r="1.40" stroke="none"/></g>
<g stroke="#ff0000" stroke-width="0.70" fill="#ff0000" opacity="1.00"><path d="M28.00 79.70 V96.70 M26.30 79.70 h3.40 M26.30 96.70 h3.40" fill="none"/><circle cx="28.00" cy="87.70" r="1.40" stroke="none"/></g>
<g stroke="#ff0000" stroke-width="0.70" fill="#ff0000" opacity="1.00"><path d="M27.70 96.40 V106.40 M26.00 96.40 h3.40 M26.00 106.40 h3.40" fill="none"/><circle cx="27.70" cy="101.40" r="1.40" stroke="none"/></g>
<g stroke="#1414ff" stroke-width="0.80" fill="#1414ff" opacity="1.00"><path d="M16.50 251.50 V257.30 M14.70 251.50 h3.60 M14.70 257.30 h3.60" fill="none"/><circle cx="16.50" cy="256.30" r="1.50" stroke="none"/></g>
<g stroke="#1414ff" stroke-width="0.80" fill="#1414ff" opacity="1.00"><path d="M22.50 230.20 V243.40 M20.70 230.20 h3.60 M20.70 243.40 h3.60" fill="none"/><circle cx="22.50" cy="236.70" r="1.50" stroke="none"/></g>
<g stroke="#1414ff" stroke-width="0.80" fill="#1414ff" opacity="1.00"><path d="M24.70 173.40 V190.90 M22.90 173.40 h3.60 M22.90 190.90 h3.60" fill="none"/><circle cx="24.70" cy="182.40" r="1.50" stroke="none"/></g>
<g stroke="#1414ff" stroke-width="0.80" fill="#1414ff" opacity="1.00"><path d="M26.90 97.40 V112.10 M25.10 97.40 h3.60 M25.10 112.10 h3.60" fill="none"/><circle cx="26.90" cy="104.90" r="1.50" stroke="none"/></g>
<g stroke="#1414ff" stroke-width="0.80" fill="#1414ff" opacity="1.00"><path d="M27.30 78.30 V90.30 M25.50 78.30 h3.60 M25.50 90.30 h3.60" fill="none"/><circle cx="27.30" cy="84.30" r="1.50" stroke="none"/></g>
<g stroke="#1414ff" stroke-width="0.80" fill="#1414ff" opacity="1.00"><path d="M30.80 50.60 V63.90 M29.00 50.60 h3.60 M29.00 63.90 h3.60" fill="none"/><circle cx="30.80" cy="57.10" r="1.50" stroke="none"/></g>
<g stroke="#1414ff" stroke-width="0.80" fill="#1414ff" opacity="1.00"><path d="M33.90 41.70 V53.70 M32.10 41.70 h3.60 M32.10 53.70 h3.60" fill="none"/><circle cx="33.90" cy="47.70" r="1.50" stroke="none"/></g>
<g stroke="#1414ff" stroke-width="0.80" fill="#1414ff" opacity="1.00"><path d="M37.30 45.60 V57.20 M35.50 45.60 h3.60 M35.50 57.20 h3.60" fill="none"/><circle cx="37.30" cy="51.40" r="1.50" stroke="none"/></g>
<g stroke="#1414ff" stroke-width="0.80" fill="#1414ff" opacity="1.00"><path d="M46.10 72.50 V84.50 M44.30 72.50 h3.60 M44.30 84.50 h3.60" fill="none"/><circle cx="46.10" cy="78.50" r="1.50" stroke="none"/></g>
<g stroke="#1414ff" stroke-width="0.80" fill="#1414ff" opacity="1.00"><path d="M62.80 120.00 V131.30 M61.00 120.00 h3.60 M61.00 131.30 h3.60" fill="none"/><circle cx="62.80" cy="125.70" r="1.50" stroke="none"/></g>
<g stroke="#1414ff" stroke-width="0.80" fill="#1414ff" opacity="1.00"><path d="M81.40 147.10 V159.60 M79.60 147.10 h3.60 M79.60 159.60 h3.60" fill="none"/><circle cx="81.40" cy="153.40" r="1.50" stroke="none"/></g>
<g stroke="#1414ff" stroke-width="0.80" fill="#1414ff" opacity="1.00"><path d="M112.00 183.40 V194.00 M110.20 183.40 h3.60 M110.20 194.00 h3.60" fill="none"/><circle cx="112.00" cy="188.70" r="1.50" stroke="none"/></g>
<g stroke="#1414ff" stroke-width="0.80" fill="#1414ff" opacity="1.00"><path d="M136.30 206.80 V215.20 M134.50 206.80 h3.60 M134.50 215.20 h3.60" fill="none"/><circle cx="136.30" cy="211.00" r="1.50" stroke="none"/></g>
<g stroke="#1414ff" stroke-width="0.80" fill="#1414ff" opacity="1.00"><path d="M177.70 218.20 V227.40 M175.90 218.20 h3.60 M175.90 227.40 h3.60" fill="none"/><circle cx="177.70" cy="222.80" r="1.50" stroke="none"/></g>
<g stroke="#1414ff" stroke-width="0.80" fill="#1414ff" opacity="1.00"><path d="M244.00 232.10 V241.50 M242.20 232.10 h3.60 M242.20 241.50 h3.60" fill="none"/><circle cx="244.00" cy="236.80" r="1.50" stroke="none"/></g>
<g stroke="#1414ff" stroke-width="0.80" fill="#1414ff" opacity="1.00"><path d="M284.00 236.60 V245.90 M282.20 236.60 h3.60 M282.20 245.90 h3.60" fill="none"/><circle cx="284.00" cy="241.30" r="1.50" stroke="none"/></g>
<g stroke="#1414ff" stroke-width="0.80" fill="#1414ff" opacity="1.00"><path d="M329.00 241.90 V251.40 M327.20 241.90 h3.60 M327.20 251.40 h3.60" fill="none"/><circle cx="329.00" cy="246.70" r="1.50" stroke="none"/></g>
<clipPath id="cp"><rect x="25.5" y="0" width="400" height="273"/></clipPath>
<g clip-path="url(#cp)">
<path d="M48.50 21.27 L48.56 21.57 L48.69 22.23 L48.87 23.17 L49.11 24.35 L49.39 25.74 L49.72 27.32 L50.08 29.08 L50.49 30.99 L50.93 33.03 L51.40 35.21 L51.91 37.49 L52.46 39.87 L53.03 42.34 L53.64 44.89 L54.28 47.50 L54.95 50.16 L55.65 52.88 L56.38 55.63 L57.14 58.41 L57.93 61.21 L58.75 64.03 L59.59 66.86 L60.46 69.69 L61.36 72.51 L62.28 75.33 L63.23 78.14 L64.21 80.93 L65.21 83.70 L66.24 86.45 L67.29 89.17 L68.37 91.86 L69.47 94.52 L70.59 97.14 L71.74 99.73 L72.92 102.28 L74.11 104.80 L75.34 107.27 L76.58 109.71 L77.85 112.10 L79.14 114.45 L80.45 116.76 L81.79 119.03 L83.15 121.26 L84.53 123.44 L85.93 125.59 L87.36 127.69 L88.80 129.75 L90.27 131.77 L91.76 133.75 L93.27 135.69 L94.81 137.58 L96.36 139.45 L97.94 141.27 L99.53 143.05 L101.15 144.80 L102.79 146.51 L104.45 148.19 L106.12 149.83 L107.82 151.44 L109.54 153.01 L111.28 154.55 L113.04 156.06 L114.82 157.54 L116.62 158.99 L118.44 160.40 L120.28 161.79 L122.14 163.15 L124.02 164.48 L125.91 165.78 L127.83 167.06 L129.77 168.31 L131.72 169.53 L133.70 170.73 L135.69 171.91 L137.70 173.06 L139.73 174.18 L141.78 175.29 L143.85 176.37 L145.94 177.43 L148.05 178.47 L150.17 179.48 L152.31 180.48 L154.48 181.46 L156.66 182.41 L158.85 183.35 L161.07 184.27 L163.30 185.17 L165.56 186.05 L167.83 186.92 L170.11 187.77 L172.42 188.60 L174.74 189.41 L177.09 190.21 L179.45 191.00 L181.82 191.76 L184.22 192.52 L186.63 193.25 L189.06 193.98 L191.51 194.68 L193.97 195.38 L196.45 196.06 L198.95 196.73 L201.47 197.38 L204.00 198.02 L206.55 198.65 L209.12 199.27 L211.70 199.88 L214.30 200.47 L216.92 201.05 L219.56 201.62 L222.21 202.18 L224.88 202.73 L227.56 203.27 L230.27 203.79 L232.99 204.31 L235.72 204.82 L238.47 205.31 L241.24 205.80 L244.03 206.28 L246.83 206.75 L249.65 207.21 L252.48 207.66 L255.33 208.10 L258.20 208.54 L261.08 208.96 L263.98 209.38 L266.89 209.79 L269.83 210.19 L272.77 210.58 L275.74 210.97 L278.72 211.34 L281.71 211.72 L284.72 212.08 L287.75 212.44 L290.79 212.79 L293.85 213.13 L296.93 213.47 L300.02 213.80 L303.12 214.12 L306.25 214.44 L309.38 214.75 L312.54 215.06 L315.71 215.36 L318.89 215.65 L322.09 215.94 L325.31 216.22 L328.54 216.50 L331.78 216.77 L335.04 217.04 L338.32 217.30 L341.61 217.56 L344.92 217.81 L348.24 218.06 L351.58 218.30 L354.94 218.54 L358.30 218.77 L361.69 219.00 L365.09 219.23 L368.50 219.45" fill="none" stroke="#a77b4e" stroke-width="0.9" stroke-dasharray="4.5 2.8 1.4 2.8"/>
<path d="M25.50 92.40 L25.56 92.48 L25.70 92.68 L25.90 92.97 L26.16 93.34 L26.46 93.79 L26.81 94.31 L27.20 94.90 L27.63 95.56 L28.10 96.28 L28.61 97.08 L29.16 97.94 L29.74 98.87 L30.36 99.87 L31.01 100.92 L31.70 102.04 L32.42 103.23 L33.17 104.46 L33.95 105.76 L34.76 107.11 L35.61 108.51 L36.48 109.95 L37.39 111.45 L38.32 112.98 L39.28 114.56 L40.27 116.17 L41.29 117.81 L42.34 119.48 L43.41 121.18 L44.51 122.89 L45.64 124.63 L46.79 126.39 L47.97 128.15 L49.18 129.93 L50.41 131.71 L51.67 133.50 L52.96 135.28 L54.26 137.07 L55.60 138.85 L56.96 140.62 L58.34 142.39 L59.75 144.14 L61.18 145.89 L62.64 147.61 L64.12 149.32 L65.62 151.02 L67.15 152.69 L68.70 154.35 L70.27 155.98 L71.87 157.59 L73.49 159.18 L75.14 160.74 L76.80 162.28 L78.49 163.79 L80.20 165.28 L81.93 166.74 L83.69 168.18 L85.47 169.58 L87.27 170.97 L89.09 172.32 L90.93 173.65 L92.79 174.95 L94.68 176.23 L96.59 177.48 L98.52 178.70 L100.47 179.89 L102.44 181.06 L104.43 182.21 L106.44 183.33 L108.48 184.42 L110.53 185.49 L112.61 186.54 L114.70 187.56 L116.82 188.56 L118.96 189.54 L121.11 190.49 L123.29 191.41 L125.49 192.29 L127.71 193.15 L129.94 193.97 L132.20 194.76 L134.48 195.54 L136.78 196.29 L139.09 197.03 L141.43 197.75 L143.79 198.46 L146.16 199.16 L148.56 199.86 L150.97 200.56 L153.40 201.25 L155.86 201.92 L158.33 202.58 L160.82 203.22 L163.33 203.85 L165.86 204.46 L168.41 205.06 L170.97 205.64 L173.56 206.21 L176.16 206.77 L178.78 207.32 L181.43 207.85 L184.09 208.38 L186.76 208.89 L189.46 209.39 L192.18 209.88 L194.91 210.36 L197.66 210.83 L200.43 211.29 L203.22 211.74 L206.03 212.18 L208.85 212.62 L211.70 213.04 L214.56 213.46 L217.43 213.87 L220.33 214.27 L223.24 214.66 L226.18 215.05 L229.13 215.43 L232.09 215.80 L235.08 216.16 L238.08 216.52 L241.10 216.87 L244.14 217.21 L247.20 217.54 L250.27 217.87 L253.36 218.19 L256.47 218.50 L259.59 218.81 L262.73 219.11 L265.89 219.41 L269.07 219.69 L272.26 219.98 L275.47 220.26 L278.70 220.53 L281.95 220.80 L285.21 221.06 L288.49 221.32 L291.78 221.58 L295.10 221.83 L298.43 222.08 L301.77 222.32 L305.13 222.55 L308.51 222.79 L311.91 223.02 L315.32 223.24 L318.75 223.47 L322.20 223.69 L325.66 223.90 L329.14 224.11 L332.64 224.32 L336.15 224.53 L339.68 224.75 L343.23 224.96 L346.79 225.17 L350.37 225.39 L353.96 225.60 L357.57 225.81 L361.20 226.02 L364.84 226.23 L368.50 226.43" fill="none" stroke="#2a2aff" stroke-width="1"/>
<path d="M25.50 62.95 L25.56 63.22 L25.70 63.84 L25.90 64.73 L26.16 65.83 L26.46 67.14 L26.81 68.62 L27.20 70.26 L27.63 72.05 L28.10 73.96 L28.61 75.99 L29.16 78.12 L29.74 80.34 L30.36 82.64 L31.01 85.01 L31.70 87.44 L32.42 89.91 L33.17 92.43 L33.95 94.97 L34.76 97.54 L35.61 100.13 L36.48 102.72 L37.39 105.32 L38.32 107.92 L39.28 110.50 L40.27 113.08 L41.29 115.63 L42.34 118.17 L43.41 120.68 L44.51 123.16 L45.64 125.61 L46.79 128.02 L47.97 130.40 L49.18 132.74 L50.41 135.04 L51.67 137.31 L52.96 139.52 L54.26 141.70 L55.60 143.83 L56.96 145.92 L58.34 147.96 L59.75 149.95 L61.18 151.91 L62.64 153.81 L64.12 155.67 L65.62 157.49 L67.15 159.26 L68.70 160.99 L70.27 162.68 L71.87 164.33 L73.49 165.93 L75.14 167.49 L76.80 169.01 L78.49 170.50 L80.20 171.94 L81.93 173.35 L83.69 174.72 L85.47 176.05 L87.27 177.35 L89.09 178.61 L90.93 179.85 L92.79 181.05 L94.68 182.21 L96.59 183.35 L98.52 184.46 L100.47 185.54 L102.44 186.59 L104.43 187.61 L106.44 188.61 L108.48 189.58 L110.53 190.53 L112.61 191.45 L114.70 192.35 L116.82 193.22 L118.96 194.08 L121.11 194.91 L123.29 195.73 L125.49 196.52 L127.71 197.29 L129.94 198.05 L132.20 198.77 L134.48 199.45 L136.78 200.10 L139.09 200.72 L141.43 201.32 L143.79 201.91 L146.16 202.50 L148.56 203.09 L150.97 203.70 L153.40 204.31 L155.86 204.93 L158.33 205.54 L160.82 206.16 L163.33 206.77 L165.86 207.37 L168.41 207.97 L170.97 208.56 L173.56 209.14 L176.16 209.71 L178.78 210.26 L181.43 210.79 L184.09 211.30 L186.76 211.79 L189.46 212.25 L192.18 212.69 L194.91 213.12 L197.66 213.53 L200.43 213.94 L203.22 214.35 L206.03 214.74 L208.85 215.12 L211.70 215.50 L214.56 215.87 L217.43 216.23 L220.33 216.59 L223.24 216.94 L226.18 217.28 L229.13 217.62 L232.09 217.95 L235.08 218.28 L238.08 218.60 L241.10 218.91 L244.14 219.22 L247.20 219.53 L250.27 219.83 L253.36 220.12 L256.47 220.41 L259.59 220.70 L262.73 220.98 L265.89 221.26 L269.07 221.53 L272.26 221.80 L275.47 222.06 L278.70 222.32 L281.95 222.57 L285.21 222.83 L288.49 223.07 L291.78 223.32 L295.10 223.56 L298.43 223.79 L301.77 224.03 L305.13 224.26 L308.51 224.48 L311.91 224.70 L315.32 224.92 L318.75 225.14 L322.20 225.35 L325.66 225.56 L329.14 225.77 L332.64 225.97 L336.15 226.17 L339.68 226.37 L343.23 226.57 L346.79 226.76 L350.37 226.95 L353.96 227.14 L357.57 227.32 L361.20 227.50 L364.84 227.68 L368.50 227.86" fill="none" stroke="#000" stroke-width="2.3"/>
</g>
<path d="M175 60.3 H184.6" stroke="#000" stroke-width="1.4"/>
<path d="M175 84 H184.6" stroke="#c9ad92" stroke-width="0.9" stroke-dasharray="4.3 1.2 4.1"/>
<path d="M175 106.6 H184.6" stroke="#2a2aff" stroke-width="1"/>
<circle cx="252.4" cy="60.8" r="2.1" fill="#ff0000"/>
<circle cx="252.4" cy="83.9" r="2.1" fill="#0000ff"/>
</svg>
<div class="t" style="left:1.0px;top:4.3px;">(e&#8722;3P)/<i>T</i><span class="sup tt">4</span></div>
<div class="t" style="right:374.7px;top:17.1px;">3.0</div>
<div class="t" style="right:374.7px;top:56.2px;">2.5</div>
<div class="t" style="right:374.7px;top:95.3px;">2.0</div>
<div class="t" style="right:374.7px;top:134.4px;">1.5</div>
<div class="t" style="right:374.7px;top:173.5px;">1.0</div>
<div class="t" style="right:374.7px;top:212.6px;">0.5</div>
<div class="t" style="left:25.8px;transform:translateX(-50%);top:261.7px;">1</div>
<div class="t" style="left:111.5px;transform:translateX(-50%);top:261.7px;">2</div>
<div class="t" style="left:197.3px;transform:translateX(-50%);top:261.7px;">3</div>
<div class="t" style="left:283.1px;transform:translateX(-50%);top:261.7px;">4</div>
<div class="t" style="left:368.8px;transform:translateX(-50%);top:261.7px;">5</div>
<div class="t" style="left:376.5px;top:249.9px;">T/<i>T</i><span class="sub"><i>c</i></span></div>
<div class="t" style="left:193.3px;top:55.9px;">Numeric</div>
<div class="t" style="left:197.5px;top:79.8px;"><i>O</i>(<i>&#945;</i><span class="sub"><i>h</i></span><span class="sup">2</span>)</div>
<div class="t" style="left:197.5px;top:102.4px;"><i>O</i>(<i>&#945;</i><span class="sub"><i>h</i></span><span class="sup">3</span>)</div>
<div class="t" style="left:267.9px;top:55.9px;">SU(3) Panero</div>
<div class="t" style="left:266.7px;top:78.7px;">SU(3) Boyd et al.</div>
</body></html>
